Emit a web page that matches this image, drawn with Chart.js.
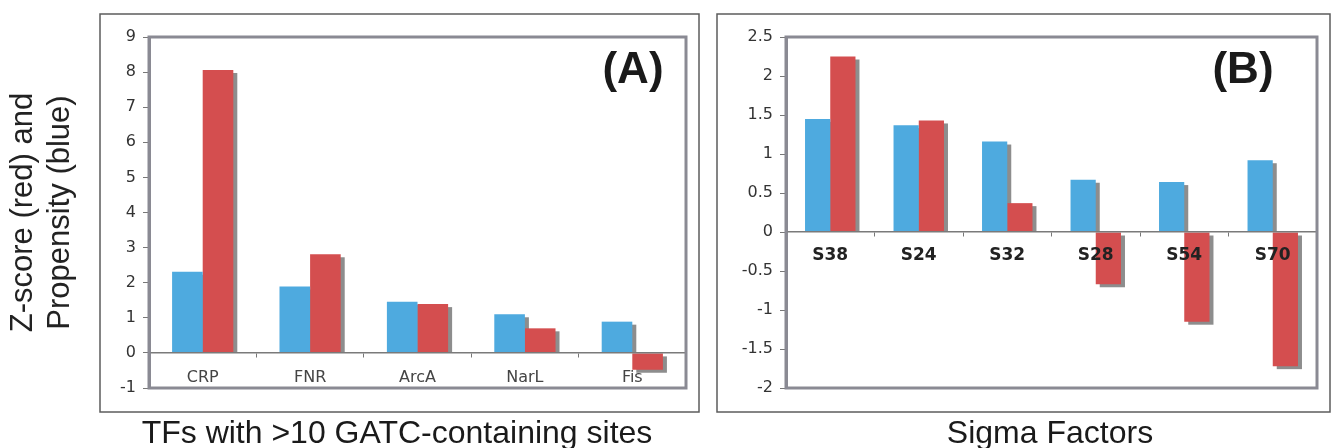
<!DOCTYPE html>
<html>
<head>
<meta charset="utf-8">
<script src="https://cdn.jsdelivr.net/npm/chart.js@4.4.1/dist/chart.umd.min.js"></script>
<style>
  body { margin: 0; background: #fff; }
  #wrap { position: relative; width: 1331px; height: 448px; }
  canvas { position: absolute; top: 0; }
  #chart-a { left: 0; }
  #chart-b { left: 700px; }
</style>
</head>
<body>
<div id="wrap">
  <canvas id="chart-a" width="700" height="448"></canvas>
  <canvas id="chart-b" width="631" height="448"></canvas>
</div>
<script>
// panel A: transcription factors
const tfLabels = ['CRP', 'FNR', 'ArcA', 'NarL', 'Fis'];
const tfPropensity = [2.31, 1.89, 1.46, 1.10, 0.89];
const tfZScore = [8.06, 2.81, 1.39, 0.70, -0.48];
const tickLabelsA = ['-1', '0', '1', '2', '3', '4', '5', '6', '7', '8', '9'];

// panel B: sigma factors
const sigmaLabels = ['S38', 'S24', 'S32', 'S28', 'S54', 'S70'];
const sigmaPropensity = [1.45, 1.37, 1.16, 0.67, 0.64, 0.92];
const sigmaZScore = [2.25, 1.43, 0.37, -0.67, -1.15, -1.72];
const tickLabelsB = ['-2', '-1.5', '-1', '-0.5', '0', '0.5', '1', '1.5', '2', '2.5'];

const BLUE = '#4eaadf';
const RED = '#d44e4f';
const TICK_FONT = '"DejaVu Sans", Verdana, sans-serif';
const TEXT_FONT = '"Liberation Sans", Arial, Helvetica, sans-serif';

// gray drop shadow under each bar + plot frame, outer box, panel letter, caption
const panelDecor = {
  id: 'panelDecor',
  beforeDatasetsDraw(chart) {
    const ctx = chart.ctx;
    ctx.save();
    ctx.fillStyle = '#8d8d8d';
    chart.data.datasets.forEach((ds, i) => {
      chart.getDatasetMeta(i).data.forEach(bar => {
        const p = bar.getProps(['x', 'y', 'base', 'width'], true);
        const top = Math.min(p.y, p.base) + 3;
        // positive bars: shadow stops at the zero line; negative bars: it hangs below
        const bottom = p.y > p.base ? p.y + 3 : p.base;
        ctx.fillRect(p.x - p.width / 2 + 4, top, p.width, bottom - top);
      });
    });
    ctx.restore();
  },
  afterDraw(chart, args, opts) {
    const ctx = chart.ctx;
    const a = chart.chartArea;
    const b = opts.box;
    ctx.save();
    ctx.strokeStyle = '#8a8a93';
    ctx.lineWidth = 3;
    ctx.strokeRect(a.left, a.top, a.right - a.left, a.bottom - a.top);
    ctx.strokeStyle = '#5c5c5c';
    ctx.lineWidth = 1.5;
    ctx.strokeRect(a.left - b[0], a.top - b[1], a.right - a.left + b[0] + b[2], a.bottom - a.top + b[1] + b[3]);
    ctx.fillStyle = '#1a1a1a';
    ctx.textAlign = 'center';
    ctx.textBaseline = 'middle';
    ctx.font = 'bold 44px ' + TEXT_FONT;
    ctx.fillText(opts.label, a.right - opts.labelDx, a.top + 34);
    ctx.textBaseline = 'alphabetic';
    ctx.font = '32px ' + TEXT_FONT;
    ctx.fillText(opts.caption, opts.captionX, 443);
    ctx.restore();
  }
};

function yAxis(min, max, step, labels, width, title) {
  return {
    min: min,
    max: max,
    afterFit(scale) { scale.width = width; },
    border: { color: '#8a8a93', width: 3 },
    grid: { drawOnChartArea: false, tickLength: 6, color: '#777' },
    ticks: {
      stepSize: step,
      padding: 7,
      color: '#333',
      font: { family: TICK_FONT, size: 16 },
      callback: (v, i) => labels[i]
    },
    title: title
  };
}

// category axis sits on the zero line, labels drawn over the bars
function xAxis(font, color, padding) {
  return {
    position: { y: 0 },
    border: { color: '#7a7a7a', width: 1.5, z: 1 },
    grid: { drawOnChartArea: false, tickLength: 4, color: '#777', offset: true, z: 1 },
    ticks: { autoSkip: false, maxRotation: 0, padding: padding, color: color, font: font, z: 2 }
  };
}

new Chart(document.getElementById('chart-a'), {
  type: 'bar',
  data: {
    labels: tfLabels,
    datasets: [
      { label: 'Propensity', data: tfPropensity, backgroundColor: BLUE },
      { label: 'Z-score', data: tfZScore, backgroundColor: RED }
    ]
  },
  options: {
    responsive: false,
    animation: false,
    categoryPercentage: 0.57,
    barPercentage: 1.0,
    layout: { padding: { left: 0, top: 37, right: 14, bottom: 60 } },
    scales: {
      x: xAxis({ family: TICK_FONT, size: 16 }, '#444', 11),
      y: yAxis(-1, 9, 1, tickLabelsA, 149, {
        display: true,
        text: ['Z-score (red) and', 'Propensity (blue)'],
        color: '#222',
        font: { family: TEXT_FONT, size: 31, lineHeight: 1.2 },
        padding: { top: 5, bottom: 0 }
      })
    },
    plugins: {
      legend: { display: false },
      tooltip: { enabled: false },
      panelDecor: { box: [49, 23, 13, 24], label: '(A)', labelDx: 53, caption: 'TFs with >10 GATC-containing sites', captionX: 397 }
    }
  },
  plugins: [panelDecor]
});

new Chart(document.getElementById('chart-b'), {
  type: 'bar',
  data: {
    labels: sigmaLabels,
    datasets: [
      { label: 'Propensity', data: sigmaPropensity, backgroundColor: BLUE },
      { label: 'Z-score', data: sigmaZScore, backgroundColor: RED }
    ]
  },
  options: {
    responsive: false,
    animation: false,
    categoryPercentage: 0.57,
    barPercentage: 1.0,
    layout: { padding: { left: 0, top: 37, right: 14, bottom: 60 } },
    scales: {
      x: xAxis({ family: TICK_FONT, size: 17, weight: 'bold' }, '#222', 9),
      y: yAxis(-2, 2.5, 0.5, tickLabelsB, 86, { display: false })
    },
    plugins: {
      legend: { display: false },
      tooltip: { enabled: false },
      panelDecor: { box: [69, 23, 13, 24], label: '(B)', labelDx: 74, caption: 'Sigma Factors', captionX: 350 }
    }
  },
  plugins: [panelDecor]
});
</script>
</body>
</html>
